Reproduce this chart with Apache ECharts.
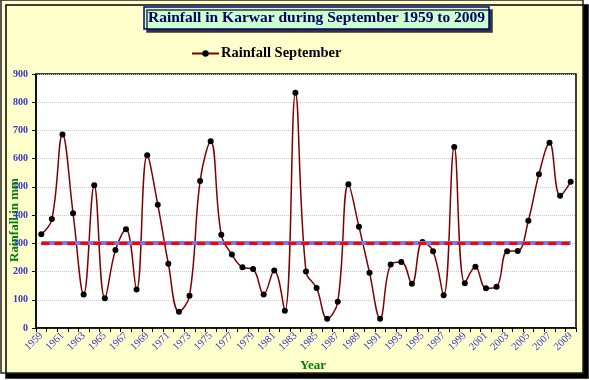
<!DOCTYPE html>
<html>
<head>
<meta charset="utf-8">
<script src="https://cdn.jsdelivr.net/npm/echarts@6/dist/echarts.min.js"></script>
<style>html,body{margin:0;padding:0;background:#fff;}#c{width:589px;height:380px;}</style>
</head>
<body>
<div id="c"></div>
<script>
var years = ['1959','1960','1961','1962','1963','1964','1965','1966','1967','1968','1969','1970','1971','1972','1973','1974','1975','1976','1977','1978','1979','1980','1981','1982','1983','1984','1985','1986','1987','1988','1989','1990','1991','1992','1993','1994','1995','1996','1997','1998','1999','2000','2001','2002','2003','2004','2005','2006','2007','2008','2009'];
var rainfallSeptember = [332,386,686,407,119,506,105,276,350,136,612,437,228,58,114,521,662,330,260,215,209,119,204,61,834,200,142,33,93,509,359,196,33,225,234,157,305,272,116,641,159,217,141,146,272,273,380,545,656,469,518];
var meanValue = 302;
var yTicks = [0,100,200,300,400,500,600,700,800,900];

var serif = '"Liberation Serif","DejaVu Serif",serif';
var chart = echarts.init(document.getElementById('c'), null, {renderer:'canvas'});
chart.setOption({
  backgroundColor: '#ffffff',
  animation: false,
  graphic: [
    {type:'rect', z:-10, shape:{x:1,y:0,width:582,height:373},
     style:{fill:'#FFFFCC', stroke:'#222', lineWidth:1.5, shadowColor:'#000', shadowOffsetX:5, shadowOffsetY:5, shadowBlur:0}},
    {type:'text', x:15, y:220, rotation:Math.PI/2,
     style:{text:'Rainfall in mm', fill:'#008000', font:'bold 13px ' + serif, textAlign:'center', textVerticalAlign:'middle'}},
    {type:'text', x:313, y:366,
     style:{text:'Year', fill:'#008000', font:'bold 13px ' + serif, textAlign:'center', textVerticalAlign:'middle'}}
  ],
  title: {
    text: 'Rainfall in Karwar during September 1959 to 2009',
    left: 144, top: 7,
    padding: [3,4,3,4],
    backgroundColor: '#CCFFCC',
    borderColor: '#000080', borderWidth: 1.5,
    shadowColor: '#333', shadowOffsetX: 3, shadowOffsetY: 3, shadowBlur: 0,
    textStyle: {fontFamily: serif, fontWeight:'bold', fontSize:15.5, color:'#000066'}
  },
  legend: {
    data: ['Rainfall September'],
    left: 186, top: 41,
    itemWidth: 27, itemHeight: 8, itemGap: 4,
    textStyle: {fontFamily: serif, fontWeight:'bold', fontSize:14.5, color:'#000', padding:[0,0,0,-3]}
  },
  grid: {left:36, right:13, top:74, bottom:52, show:true, backgroundColor:'#ffffff', borderColor:'#000', borderWidth:1.5},
  xAxis: {
    type: 'category', data: years, boundaryGap: true,
    axisLine: {lineStyle:{color:'#000', width:1.5}},
    axisTick: {show:true, interval:0, length:4, lineStyle:{color:'#000'}},
    axisLabel: {interval:1, rotate:45, fontFamily:serif, fontSize:10.5, color:'#3333CC', margin:6}
  },
  yAxis: {
    type: 'value', min: yTicks[0], max: yTicks[yTicks.length-1], interval: 100,
    axisLine: {show:true, lineStyle:{color:'#000', width:1.5}},
    axisTick: {show:true, length:4, lineStyle:{color:'#000'}},
    axisLabel: {fontFamily:serif, fontSize:10, fontWeight:'bold', color:'#3333CC', margin:8},
    splitLine: {lineStyle:{color:'#C8C8C8', type:'dotted', width:1}}
  },
  series: [{
    name: 'Rainfall September', type: 'line', data: rainfallSeptember,
    smooth: 0.4,
    symbol: 'circle', symbolSize: 6,
    itemStyle: {color:'#000'},
    lineStyle: {color:'#800000', width:1.5},
    markLine: {
      silent: true, symbol: ['none','none'], label:{show:false},
      data: [
        [{coord:[years[0], meanValue], lineStyle:{color:'#7777FF', width:4, type:'solid'}},
         {coord:[years[years.length-1], meanValue]}],
        [{coord:[years[0], meanValue], lineStyle:{color:'#FF0000', width:3, type:[8,5]}},
         {coord:[years[years.length-1], meanValue]}]
      ]
    }
  }]
});
</script>
</body>
</html>
